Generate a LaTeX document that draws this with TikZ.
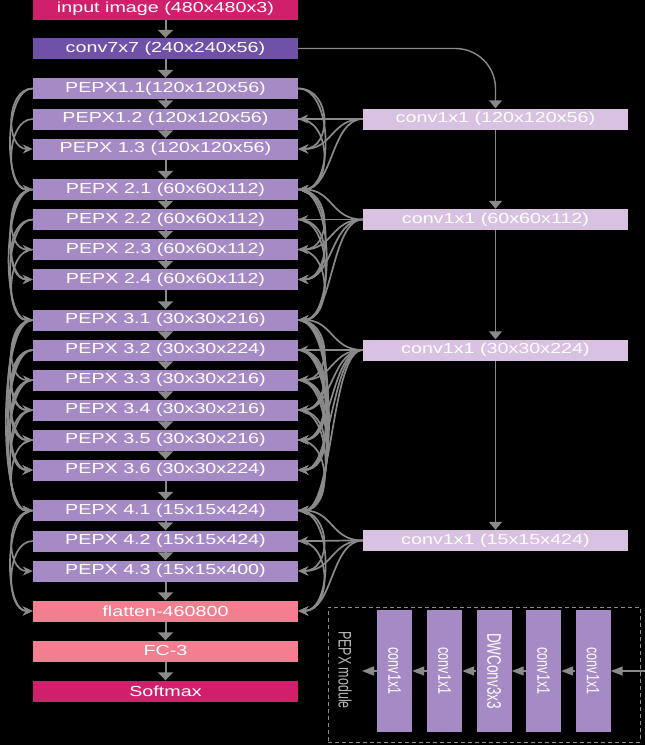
\documentclass[tikz,border=0pt]{standalone}
\usepackage{fontspec}
\setmainfont{Liberation Sans}
\usepackage{graphicx}
\usetikzlibrary{arrows.meta}
\definecolor{inpc}{HTML}{D1206B}
\definecolor{c7c}{HTML}{6F51A8}
\definecolor{pepc}{HTML}{A68AC5}
\definecolor{c1c}{HTML}{D8C1E1}
\definecolor{flc}{HTML}{F27E90}
\definecolor{grc}{HTML}{8A8A8A}
\newcommand{\wt}[1]{\scalebox{1.36}[1]{#1}}
\newcommand{\vt}[1]{\rotatebox{-90}{\scalebox{1}[1.45]{#1}}}
\newcommand{\denselinks}[1]{%
  \foreach \a [count=\i] in {#1} {
    \foreach \b [count=\j] in {#1} {
      \pgfmathtruncatemacro{\dd}{\j-\i}
      \ifnum\dd>1
        \pgfmathsetmacro{\offl}{24+1.8*\dd}
        \pgfmathsetmacro{\offr}{31+1.5*\dd}
        \draw[lnk] (\a.west) .. controls +(-\offl,0) and +(-\offl,0) .. (\b.west);
        \draw[lnk] (\a.east) .. controls +(\offr,0) and +(\offr,0) .. (\b.east);
      \fi
    }
  }}
\newcommand{\convlinks}[2]{%
  \foreach \b in {#2} {
    \draw[lnk] (#1.west) .. controls +(-32,0) and +(35,0) .. (\b.east);
  }}
\begin{document}
\begin{tikzpicture}[x=1pt,y=-1pt,
  box/.style={minimum width=265pt, minimum height=21pt, inner sep=0pt, text=white, font=\fontsize{14.5}{15}\selectfont},
  pbox/.style={box, fill=pepc},
  cbox/.style={box, fill=c1c},
  vbox/.style={fill=pepc, minimum width=35pt, minimum height=122pt, inner sep=0pt, text=white, font=\fontsize{12.5}{13}\selectfont},
  varr/.style={draw=grc, line width=2pt, -{Triangle[length=8pt,width=15pt]}},
  carr/.style={draw=grc, line width=1.4pt, -{Triangle[length=8pt,width=13pt]}},
  lnk/.style={draw=grc, line width=1.7pt, -{Stealth[length=10pt,width=9pt]}},
  harr/.style={draw=grc, line width=1.4pt, -{Triangle[length=12pt,width=9pt]}},
  dashbox/.style={draw=grc, line width=1pt, dash pattern=on 4pt off 3pt, minimum width=312pt, minimum height=135pt, inner sep=0pt},
]
\fill[black] (0,0) rectangle (645,745);
\useasboundingbox (0,0) rectangle (645,745);

% main column
\node[box, fill=inpc] (inp) at (165.5,9) {\wt{input image (480x480x3)}};
\node[box, fill=c7c] (c7) at (165.5,48.5) {\wt{conv7x7 (240x240x56)}};
\node[pbox] (p11) at (165.5,88.5) {\wt{PEPX1.1(120x120x56)}};
\node[pbox] (p12) at (165.5,119) {\wt{PEPX1.2 (120x120x56)}};
\node[pbox] (p13) at (165.5,149) {\wt{PEPX 1.3 (120x120x56)}};
\node[pbox] (p21) at (165.5,189.5) {\wt{PEPX 2.1 (60x60x112)}};
\node[pbox] (p22) at (165.5,219.5) {\wt{PEPX 2.2 (60x60x112)}};
\node[pbox] (p23) at (165.5,249.5) {\wt{PEPX 2.3 (60x60x112)}};
\node[pbox] (p24) at (165.5,279.5) {\wt{PEPX 2.4 (60x60x112)}};
\node[pbox] (p31) at (165.5,320) {\wt{PEPX 3.1 (30x30x216)}};
\node[pbox] (p32) at (165.5,350) {\wt{PEPX 3.2 (30x30x224)}};
\node[pbox] (p33) at (165.5,380) {\wt{PEPX 3.3 (30x30x216)}};
\node[pbox] (p34) at (165.5,410) {\wt{PEPX 3.4 (30x30x216)}};
\node[pbox] (p35) at (165.5,440) {\wt{PEPX 3.5 (30x30x216)}};
\node[pbox] (p36) at (165.5,470) {\wt{PEPX 3.6 (30x30x224)}};
\node[pbox] (p41) at (165.5,510.5) {\wt{PEPX 4.1 (15x15x424)}};
\node[pbox] (p42) at (165.5,541) {\wt{PEPX 4.2 (15x15x424)}};
\node[pbox] (p43) at (165.5,571) {\wt{PEPX 4.3 (15x15x400)}};
\node[box, fill=flc] (fl) at (165.5,611) {\wt{flatten-460800}};
\node[box, fill=flc] (fc) at (165.5,651) {\wt{FC-3}};
\node[box, fill=inpc] (sm) at (165.5,691) {\wt{Softmax}};

% right conv1x1 column
\node[cbox] (k1) at (495.5,119) {\wt{conv1x1 (120x120x56)}};
\node[cbox] (k2) at (495.5,219.5) {\wt{conv1x1 (60x60x112)}};
\node[cbox] (k3) at (495.5,350) {\wt{conv1x1 (30x30x224)}};
\node[cbox] (k4) at (495.5,540.5) {\wt{conv1x1 (15x15x424)}};

% main arrows
\foreach \a/\b in {inp/c7, c7/p11, p11/p12, p12/p13, p13/p21, p21/p22, p22/p23, p23/p24, p24/p31,
  p31/p32, p32/p33, p33/p34, p34/p35, p35/p36, p36/p41, p41/p42, p42/p43, p43/fl, fl/fc, fc/sm}
  \draw[varr] (\a.south) -- (\b.north);

% conv column arrows
\draw[carr, rounded corners=40pt] (c7.east) -| (k1.north);
\draw[carr] (k1.south) -- (k2.north);
\draw[carr] (k2.south) -- (k3.north);
\draw[carr] (k3.south) -- (k4.north);

% dense links
\denselinks{p11,p12,p13,p21}
\denselinks{p21,p22,p23,p24,p31}
\denselinks{p31,p32,p33,p34,p35,p36,p41}
\denselinks{p41,p42,p43,fl}

% conv1x1 links
\convlinks{k1}{p12,p13,p21}
\convlinks{k2}{p21,p22,p23,p24,p31}
\convlinks{k3}{p31,p32,p33,p34,p35,p36,p41}
\convlinks{k4}{p41,p42,p43,fl}

% PEPX module
\node[dashbox] (mod) at (484,674.5) {};
\node[text=white!72!black, font=\fontsize{12.5}{13}\selectfont] (modlbl) at (345,670) {\vt{PEPX module}};
\node[vbox] (m1) at (394.5,671) {\vt{conv1x1}};
\node[vbox] (m2) at (444.5,671) {\vt{conv1x1}};
\node[vbox, font=\fontsize{13.5}{14}\selectfont] (m3) at (494,671) {\vt{DWConv3x3}};
\node[vbox] (m4) at (543.5,671) {\vt{conv1x1}};
\node[vbox] (m5) at (593,671) {\vt{conv1x1}};
\coordinate (inR) at (645,671);
\coordinate (outL) at (362,671);
\draw[harr] (inR) -- (m5.east);
\draw[harr] (m5.west) -- (m4.east);
\draw[harr] (m4.west) -- (m3.east);
\draw[harr] (m3.west) -- (m2.east);
\draw[harr] (m2.west) -- (m1.east);
\draw[harr] (m1.west) -- (outL);
\end{tikzpicture}
\end{document}
